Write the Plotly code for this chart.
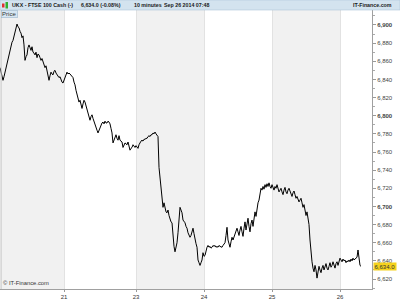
import plotly.graph_objects as go

# ---- data (10-minute closes) ----
closes = [
    6853, 6848, 6846, 6839, 6843, 6848, 6853, 6856, 6861, 6867,
    6872, 6875, 6881, 6883, 6887, 6891, 6897, 6901, 6898, 6897,
    6893, 6891, 6886, 6888, 6878, 6861, 6865, 6867, 6875, 6878,
    6875, 6872, 6876, 6870, 6869, 6867, 6870, 6864, 6868, 6867,
    6864, 6861, 6863, 6859, 6856, 6853, 6855, 6848, 6845, 6839,
    6844, 6848, 6846, 6845, 6849, 6850, 6847, 6845, 6844, 6842,
    6843, 6839, 6837, 6836, 6839, 6842, 6845, 6848, 6846, 6847,
    6846, 6845, 6844, 6842, 6837, 6834, 6828,
    6824, 6820, 6815, 6817, 6812, 6808, 6813, 6817, 6815, 6811,
    6806, 6804, 6800, 6795, 6799, 6801, 6797, 6793, 6790, 6786,
    6784, 6781, 6784, 6788, 6790, 6792, 6793, 6791, 6794, 6792,
    6792, 6794, 6793, 6791, 6786, 6781, 6770, 6773, 6777, 6779,
    6775, 6773, 6778, 6773,
    6772, 6771, 6765, 6769, 6770, 6769, 6768, 6771, 6767, 6762,
    6764, 6765, 6768, 6767, 6765, 6767, 6765, 6764, 6768, 6771,
    6772, 6773, 6772, 6774, 6774, 6775, 6775, 6777, 6778, 6777,
    6779, 6779, 6781, 6780, 6782, 6780, 6779, 6777,
    6743, 6732, 6721, 6710, 6699, 6704, 6696, 6694, 6693, 6696,
    6690, 6685, 6683, 6682, 6663, 6656, 6650, 6654, 6660, 6671,
    6685, 6699, 6696, 6693, 6685, 6683, 6682, 6678, 6676, 6671,
    6668, 6666, 6668, 6671, 6676, 6670, 6663, 6659, 6655, 6641,
    6638, 6635, 6638, 6641, 6649, 6645, 6646, 6652, 6655, 6657,
    6655, 6656, 6654, 6655, 6657, 6656, 6657, 6655, 6656, 6655,
    6657, 6656, 6655, 6655, 6657, 6659, 6660, 6668, 6677, 6663,
    6659, 6655, 6661, 6666, 6663, 6667, 6671, 6674, 6676, 6672,
    6668, 6674, 6678, 6672, 6667, 6676, 6683, 6674, 6680, 6687,
    6678, 6672, 6681, 6685, 6678, 6687, 6694, 6689, 6698, 6704,
    6707, 6714, 6720, 6718, 6722, 6719, 6724, 6721, 6725, 6722,
    6726, 6722, 6720, 6724, 6721, 6718, 6722, 6720, 6724, 6719,
    6716, 6718, 6720, 6716, 6713, 6718, 6721, 6716, 6714, 6718,
    6720, 6717, 6714, 6711, 6715, 6717, 6713, 6709, 6711, 6708,
    6705, 6707, 6709, 6704, 6699, 6702, 6696, 6690, 6694, 6687,
    6680, 6663, 6646, 6639,
    6632, 6628, 6635, 6630, 6621, 6628, 6634, 6630, 6627, 6632,
    6635, 6630, 6633, 6637, 6632, 6630, 6634, 6638, 6633, 6635,
    6639, 6634, 6632, 6637, 6639, 6635, 6640, 6643, 6641, 6639,
    6642, 6640, 6641, 6638, 6640, 6639, 6641, 6639, 6642, 6640,
    6643, 6641, 6642, 6643, 6644, 6652, 6643, 6635, 6634,
]
bars = list(range(len(closes)))

day_labels = ["21", "23", "24", "25", "26"]
day_start_bar = [64, 136, 204, 272, 340]
shaded_days = [(0, 64), (136, 204), (272, 340)]

price_ticks = list(range(6620, 6901, 20))
last_price = 6634.0

title_left = "UKX - FTSE 100 Cash (-)"
title_quote = "6,634.0 (-0.08%)"
title_period = "10 minutes"
title_date = "Sep 26 2014 07:48"

FONT = "Liberation Sans, Arial, sans-serif"
HFS = 5.3  # header font size

fig = go.Figure()
fig.add_trace(go.Scatter(
    x=bars, y=closes, mode="lines",
    line=dict(color="#000000", width=1),
    hoverinfo="skip", showlegend=False,
))

shapes = []
for a, b in shaded_days:
    shapes.append(dict(type="rect", xref="x", yref="paper", x0=a, x1=b, y0=0, y1=1,
                       fillcolor="#f1f1f1", line=dict(width=0), layer="below"))
# header bar
shapes.append(dict(type="rect", xref="paper", yref="paper", x0=0, x1=400/372,
                   y0=1, y1=1 + 10/279, fillcolor="#d3e3ef",
                   line=dict(width=0.6, color="#aec6d8"), layer="above"))
# left border
shapes.append(dict(type="line", xref="paper", yref="paper", x0=0.003, x1=0.003, y0=0, y1=1,
                   line=dict(color="#c8c8c8", width=1)))
# header icon (small candles)
shapes.append(dict(type="rect", xref="paper", yref="paper", x0=2/372, x1=4.5/372,
                   y0=1 + 2.5/279, y1=1 + 6.5/279, fillcolor="#e03030", line=dict(width=0)))
shapes.append(dict(type="rect", xref="paper", yref="paper", x0=5.5/372, x1=8/372,
                   y0=1 + 1.5/279, y1=1 + 8/279, fillcolor="#30b030", line=dict(width=0)))

ticktext = []
for v in price_ticks:
    s = f"{v:,}"
    ticktext.append(f"<b>{s}</b>" if v % 100 == 0 else s)


def header(text, xpx, anchor="left"):
    return dict(xref="paper", yref="paper", x=xpx/372, y=1 + 5/279, xanchor=anchor,
                yanchor="middle", text=f"<b>{text}</b>", showarrow=False,
                font=dict(family=FONT, size=HFS, color="#1a1a1a"))


annotations = [
    header(title_left, 10),
    header(title_quote, 79),
    header(title_period, 132),
    header(title_date, 162),
    header("IT-Finance.com", 394, "right"),
    dict(xref="paper", yref="paper", x=0.002, y=1 - 0.5/279, xanchor="left", yanchor="top",
         text="Price", showarrow=False, bgcolor="#d6e6f2", bordercolor="#9fb8cc",
         borderwidth=0.6, borderpad=0.5,
         font=dict(family=FONT, size=6, color="#333333")),
    dict(xref="paper", yref="paper", x=0.003, y=1.5/279, xanchor="left", yanchor="bottom",
         text="© IT-Finance.com", showarrow=False,
         font=dict(family=FONT, size=5.8, color="#333333")),
    dict(xref="paper", yref="y", x=373/372, y=last_price, xanchor="left", yanchor="middle",
         text=f"{last_price:,.1f}", showarrow=False, bgcolor="#f5d21c",
         borderpad=0.5, font=dict(family=FONT, size=6, color="#333333")),
]

fig.update_layout(
    width=400, height=300,
    margin=dict(l=0, r=28, t=10, b=11),
    paper_bgcolor="#ffffff", plot_bgcolor="#ffffff",
    shapes=shapes, annotations=annotations,
    showlegend=False,
    xaxis=dict(
        range=[0, 372], tickvals=day_start_bar, ticktext=day_labels,
        showgrid=True, gridcolor="#e2e2e2", gridwidth=1,
        ticks="outside", ticklen=2, tickcolor="#999999",
        showline=True, linecolor="#a0a0a0", linewidth=1,
        tickfont=dict(family=FONT, size=6, color="#333333"),
        zeroline=False, fixedrange=True,
    ),
    yaxis=dict(
        range=[6609, 6916.5], side="right",
        tickvals=price_ticks, ticktext=ticktext,
        ticks="outside", ticklen=3, tickcolor="#999999",
        minor=dict(dtick=10, ticks="outside", ticklen=2, tickcolor="#aaaaaa", showgrid=False),
        showgrid=False, showline=True, linecolor="#a0a0a0", linewidth=1,
        tickfont=dict(family=FONT, size=6, color="#444444"),
        zeroline=False, fixedrange=True,
    ),
)

fig.write_html("out.html")
